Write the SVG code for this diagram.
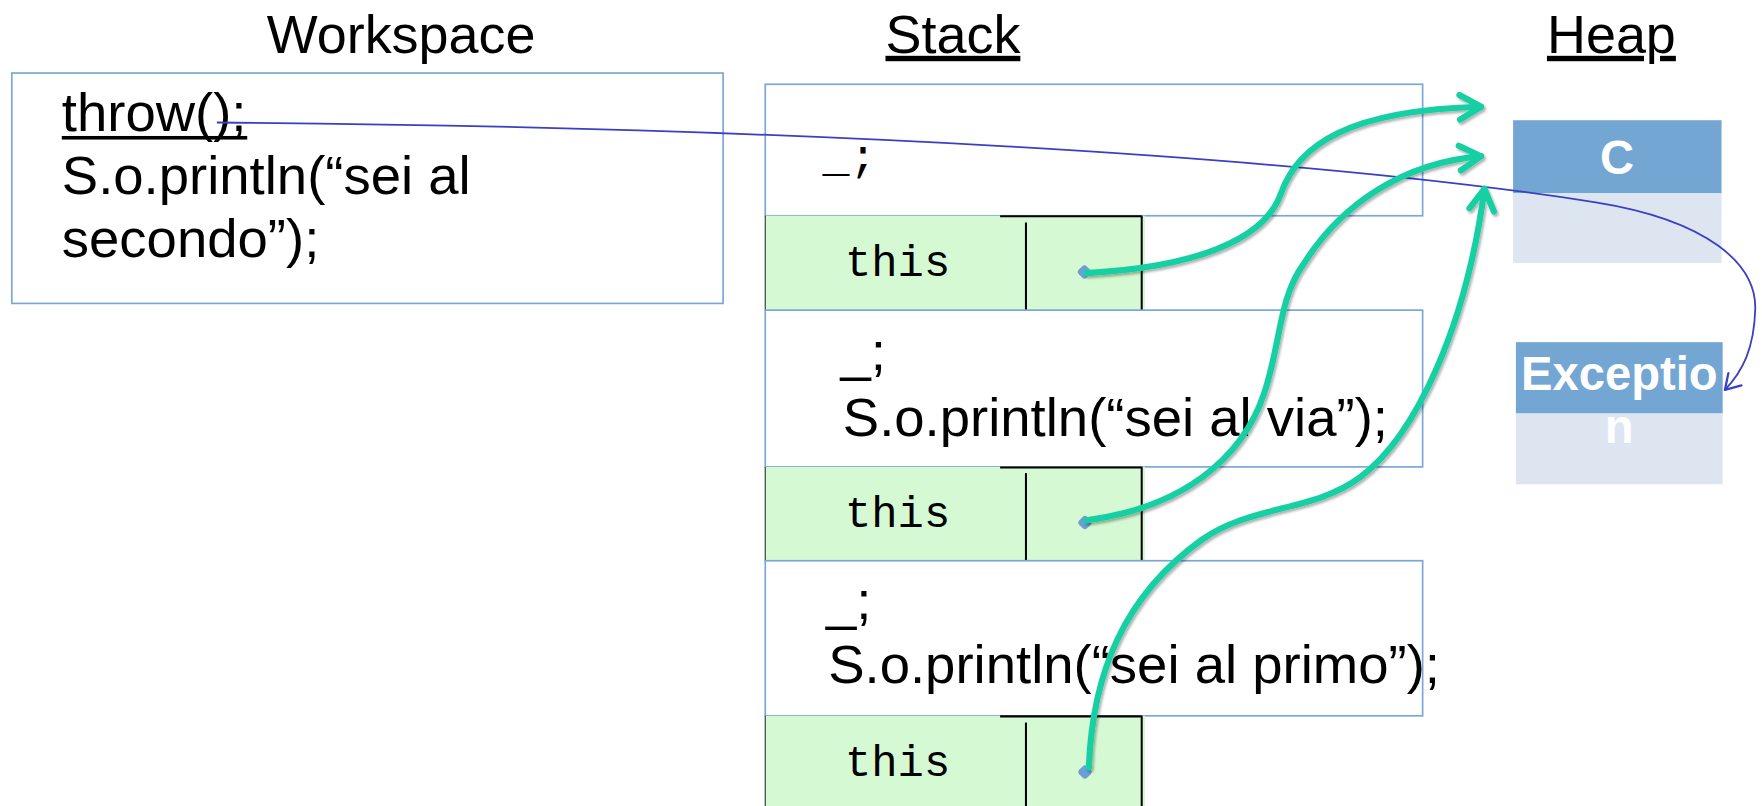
<svg xmlns="http://www.w3.org/2000/svg" width="1762" height="806" viewBox="0 0 1762 806">
  <defs>
    <style>
      text { text-decoration-skip-ink: none; }
      .title { font-family: "Liberation Sans", Arial, sans-serif; font-size: 48px; fill: #000; }
      .code { font-family: "Liberation Sans", Arial, sans-serif; font-size: 48.5px; fill: #000; }
      .mono { font-family: "Liberation Mono", "Courier New", monospace; fill: #000; }
      .frame { fill: #fff; stroke: #7aa7d7; stroke-width: 1.5; }
      .cell { fill: #d5fad3; }
      .blk { stroke: #000; stroke-width: 1.8; fill: none; }
      .hdr { fill: #73a6d3; }
      .body { fill: #dde5f1; }
      .hlabel { font-family: "Liberation Sans", Arial, sans-serif; font-weight: bold; font-size: 42px; fill: #fff; }
      .ref { stroke: #19d0a4; stroke-width: 5.5; fill: none; stroke-linecap: round; filter: url(#sh); }
      .dot { fill: #6d9fd4; }
      .thr { stroke: #3a3fc4; stroke-width: 1.6; fill: none; }
    </style>
    <filter id="sh" x="-10%" y="-10%" width="120%" height="120%">
      <feDropShadow dx="1.5" dy="2" stdDeviation="1" flood-color="#000" flood-opacity="0.3"/>
    </filter>
    <marker id="ga" markerUnits="userSpaceOnUse" viewBox="-24 -14 28 28" markerWidth="28" markerHeight="28" refX="0" refY="0" orient="auto">
      <path d="M-19,-11 L0,0 L-19,11" fill="none" stroke="#19d0a4" stroke-width="5.5" stroke-linecap="round" stroke-linejoin="round"/>
    </marker>
    <marker id="ba" markerUnits="userSpaceOnUse" viewBox="-16 -10 20 20" markerWidth="20" markerHeight="20" refX="0" refY="0" orient="auto">
      <path d="M-13,-8 L0,0 L-13,8" fill="none" stroke="#3a3fc4" stroke-width="2" stroke-linecap="round" stroke-linejoin="round"/>
    </marker>
  </defs>

  <rect width="1762" height="806" fill="#fff"/>

  <g transform="scale(1.12372)">
    <g id="titles">
      <text class="title" x="357" y="47" text-anchor="middle">Workspace</text>
      <text class="title" x="848" y="47" text-anchor="middle" text-decoration="underline">Stack</text>
      <text class="title" x="1434" y="47" text-anchor="middle" text-decoration="underline">Heap</text>
    </g>

    <g id="workspace">
      <rect class="frame" x="10.5" y="65" width="633" height="205"/>
      <text class="code" x="55" y="117">throw();</text>
      <rect x="55" y="121" width="165" height="3.2" fill="#000"/>
      <text class="code" x="55" y="173">S.o.println(“sei al</text>
      <text class="code" x="55" y="229">secondo”);</text>
    </g>

    <g id="frame1">
      <rect class="frame" x="681" y="75" width="585" height="117"/>
      <text class="mono" x="732" y="152" font-size="40">_;</text>
    </g>
    <g id="cell1">
      <rect class="cell" x="681" y="192" width="338" height="84"/>
      <line class="blk" x1="890" y1="192.5" x2="1016" y2="192.5"/>
      <line class="blk" x1="1016" y1="192" x2="1016" y2="276"/>
      <line class="blk" x1="913" y1="198" x2="913" y2="276"/>
      <line x1="681" y1="192" x2="681" y2="276" stroke="#333" stroke-width="1"/>
      <text class="mono" x="752" y="246" font-size="39">this</text>
      <rect class="dot" x="960" y="237" width="10" height="10" rx="3" transform="rotate(45 965 242)"/>
    </g>

    <g id="frame2">
      <rect class="frame" x="681" y="276" width="585" height="139.5"/>
      <text class="code" x="748" y="329">_;</text>
      <text class="code" x="750" y="388">S.o.println(“sei al via”);</text>
    </g>
    <g id="cell2">
      <rect class="cell" x="681" y="415.5" width="338" height="83.5"/>
      <line class="blk" x1="890" y1="416" x2="1016" y2="416"/>
      <line class="blk" x1="1016" y1="415.5" x2="1016" y2="499"/>
      <line class="blk" x1="913" y1="421" x2="913" y2="499"/>
      <line x1="681" y1="415.5" x2="681" y2="499" stroke="#333" stroke-width="1"/>
      <text class="mono" x="752" y="469" font-size="39">this</text>
      <rect class="dot" x="960.5" y="460" width="10" height="10" rx="3" transform="rotate(45 965.5 465)"/>
    </g>

    <g id="frame3">
      <rect class="frame" x="681" y="499" width="585" height="138"/>
      <text class="code" x="735" y="551">_;</text>
      <text class="code" x="737" y="608">S.o.println(“sei al primo”);</text>
    </g>
    <g id="cell3">
      <rect class="cell" x="681" y="637" width="338" height="84"/>
      <line class="blk" x1="890" y1="637.5" x2="1016" y2="637.5"/>
      <line class="blk" x1="1016" y1="637" x2="1016" y2="721"/>
      <line class="blk" x1="913" y1="643" x2="913" y2="721"/>
      <line x1="681" y1="637" x2="681" y2="721" stroke="#333" stroke-width="1"/>
      <text class="mono" x="752" y="691" font-size="39">this</text>
      <rect class="dot" x="960.5" y="682" width="10" height="10" rx="3" transform="rotate(45 965.5 687)"/>
    </g>

    <g id="heapC">
      <rect class="hdr" x="1346.5" y="107" width="185.5" height="65"/>
      <rect class="body" x="1346.5" y="172" width="185.5" height="62"/>
      <text class="hlabel" x="1439" y="155" text-anchor="middle">C</text>
    </g>

    <g id="heapException">
      <rect class="hdr" x="1349" y="304.5" width="184" height="63.5"/>
      <rect class="body" x="1349" y="368" width="184" height="63"/>
      <text class="hlabel" x="1441" y="347" text-anchor="middle">Exceptio</text>
      <text class="hlabel" x="1441" y="394" text-anchor="middle">n</text>
    </g>

    <g id="connectors">
      <path class="thr" marker-end="url(#ba)" d="M193,109 C 700,113 1150,138 1420,180 C 1520,196 1563,235 1562,275 C 1561,310 1551,330 1535,347"/>
      <path class="ref" marker-end="url(#ga)" d="M967,243 C 1060,238 1125,215 1140,172 C 1155,129 1200,98 1318,95"/>
      <path class="ref" marker-end="url(#ga)" d="M967,463 C 1050,452 1105,410 1125,350 C 1140,305 1138,265 1160,235 C 1195,180 1250,145 1318,139"/>
      <path class="ref" marker-end="url(#ga)" d="M969,683 C 972,600 1000,530 1070,480 C 1112,450 1170,455 1210,425 C 1260,388 1305,290 1321,168"/>
    </g>
  </g>
</svg>
